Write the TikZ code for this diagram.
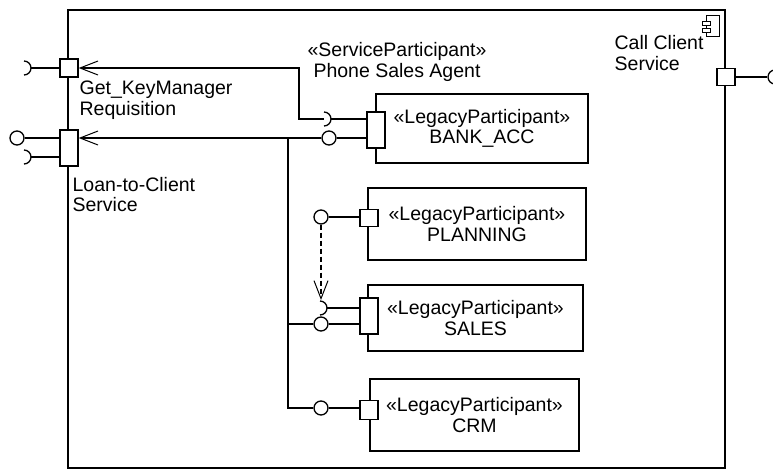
\documentclass[tikz,border=0pt]{standalone}
\usepackage{fontspec}
\setmainfont{Liberation Sans}
\usetikzlibrary{arrows.meta}

\begin{document}
\begin{tikzpicture}[x=1pt, y=-1pt, line width=1.3pt,
    every node/.style={font=\fontsize{19.5}{20.5}\selectfont, inner sep=0pt},
    part/.style={draw, align=center},
    port/.style={draw, fill=white, minimum width=18pt, minimum height=17pt},
    longport/.style={port, minimum height=36pt},
    ball/.style={draw, circle, fill=white, minimum size=14pt},
    opentip/.style={-{Straight Barb[length=18pt,width=14pt,line width=1pt]}}]
    \fill[white] (0,0) rectangle (773,471);
    \useasboundingbox (0,0) rectangle (773,471);

    % Outer component
    \node[draw, line width=1.5pt, minimum width=657pt, minimum height=458pt] (ccs) at (396.5,239) {};
    \draw[line width=0.9pt] (706,15) rectangle (719,36);
    \draw[line width=0.9pt, fill=white] (702,21) rectangle (710,25);
    \draw[line width=0.9pt, fill=white] (702,28) rectangle (710,32);
    \node[anchor=west, align=left] (ccslbl) at (614,53) {Call Client\\Service};

    % Participants
    \node[part, minimum width=212pt, minimum height=69pt] (bank) at (482,128.5) {«LegacyParticipant»\\BANK\_ACC};
    \node[part, minimum width=218pt, minimum height=72pt] (plan) at (477,224) {«LegacyParticipant»\\PLANNING};
    \node[part, minimum width=215pt, minimum height=66pt] (sales) at (475.5,318) {«LegacyParticipant»\\SALES};
    \node[part, minimum width=209pt, minimum height=72pt] (crm) at (474.5,415) {«LegacyParticipant»\\CRM};
    \node[align=center] (psa) at (397,62) {«ServiceParticipant»\\Phone Sales Agent};

    % Boundary ports
    \node[port] (pcall) at (726,77) {};
    \node[ball] (bcall) at (775,77) {};
    \draw (pcall) -- (bcall);

    \node[port, minimum height=18pt] (pgk) at (69,68) {};
    \coordinate (sgk) at (31,68);
    \draw (24,61) arc (-90:90:7);
    \draw (sgk) -- (pgk);
    \node[anchor=west, align=left] (gklbl) at (79,100) {Get\_KeyManager\\Requisition};

    \node[longport] (ploan) at (69,148) {};
    \node[ball] (bloan) at (17,138) {};
    \draw (bloan) -- (ploan.west |- bloan);
    \coordinate (sloan) at (31,157);
    \draw (24,150) arc (-90:90:7);
    \draw (sloan) -- (ploan.west |- sloan);
    \node[anchor=west, align=left] (loanlbl) at (72,194.5) {Loan-to-Client\\Service};

    % Participant ports
    \node[longport] (pbank) at (376,130) {};
    \node[port] (pplan) at (369,218) {};
    \node[longport] (psales) at (369,316) {};
    \node[port, minimum height=19pt] (pcrm) at (369,410) {};

    \node[ball] (bbank) at (329,138) {};
    \node[ball] (bplan) at (321,217) {};
    \node[ball] (bsales) at (321,324) {};
    \node[ball] (bcrm) at (321,408) {};
    \draw (bbank) -- (pbank.west |- bbank);
    \draw (bplan) -- (pplan.west |- bplan);
    \draw (bsales) -- (psales.west |- bsales);
    \draw (bcrm) -- (pcrm.west |- bcrm);

    % Sockets
    \coordinate (sbank) at (324,119);
    \draw (324,112) arc (-90:90:7);
    \draw (331,119) -- (pbank.west |- sbank);
    \coordinate (ssales) at (320,308);
    \draw (320,301) arc (-90:90:7);
    \draw (327,308) -- (psales.west |- ssales);

    % Delegations
    \draw[opentip] (sbank) -- (299,119) |- (pgk.east);
    \draw[opentip] (bbank) -- (ploan.east |- bbank);
    \coordinate (jn) at (288,138);
    \draw (jn) |- (bsales);
    \draw (jn) |- (bcrm);

    % Dependency
    \draw[opentip, dash pattern=on 5pt off 3pt] (bplan) -- (bplan |- 0,300);
\end{tikzpicture}
\end{document}
